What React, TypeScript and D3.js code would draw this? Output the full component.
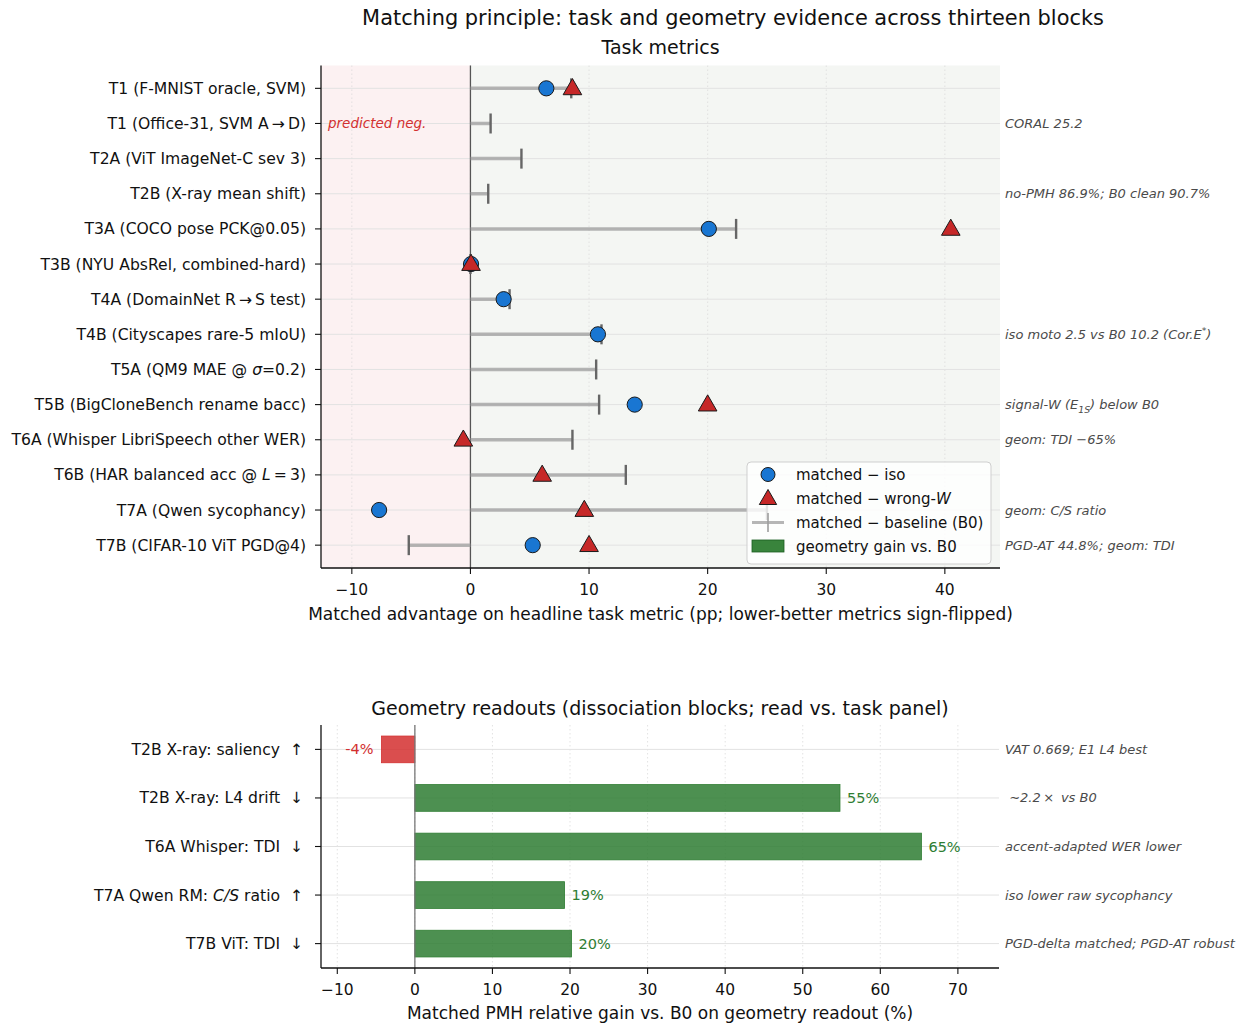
import React from 'react';
import * as d3 from 'd3';

const FONT = '"DejaVu Sans", "Liberation Sans", sans-serif';

// ---- Task panel data (matched advantage, pp) ----
const taskLabels = [
  'T1 (F-MNIST oracle, SVM)',
  'T1 (Office-31, SVM A\u2009\u2192\u2009D)',
  'T2A (ViT ImageNet-C sev 3)',
  'T2B (X-ray mean shift)',
  'T3A (COCO pose PCK@0.05)',
  'T3B (NYU AbsRel, combined-hard)',
  'T4A (DomainNet R\u2009\u2192\u2009S test)',
  'T4B (Cityscapes rare-5 mIoU)',
  'T5A (QM9 MAE @ *\u03c3*=0.2)',
  'T5B (BigCloneBench rename bacc)',
  'T6A (Whisper LibriSpeech other WER)',
  'T6B (HAR balanced acc @ *L*\u2009=\u20093)',
  'T7A (Qwen sycophancy)',
  'T7B (CIFAR-10 ViT PGD@4)',
];
const isoGap: (number | null)[] = [6.4, null, null, null, 20.1, 0.05, 2.8, 10.75, null, 13.85, null, null, -7.7, 5.25];
const wrongWGap: (number | null)[] = [8.6, null, null, null, 40.5, 0.05, null, null, null, 20.0, -0.6, 6.05, 9.6, 10.0];
const baselineGap: (number | null)[] = [8.5, 1.7, 4.3, 1.5, 22.4, 0, 3.3, 11.05, 10.6, 10.85, 8.6, 13.1, 25.0, -5.2];
const taskNotes = [
  '',
  'CORAL 25.2',
  '',
  'no-PMH 86.9%; B0 clean 90.7%',
  '',
  '',
  '',
  'iso moto 2.5 vs B0 10.2 (Cor.E^{*})',
  '',
  'signal-W (E_{1S}) below B0',
  'geom: TDI \u221265%',
  '',
  'geom: C/S ratio',
  'PGD-AT 44.8%; geom: TDI',
];
const taskTicks = [-10, 0, 10, 20, 30, 40];

// ---- Geometry panel data (relative gain, %) ----
const geomLabels = [
  'T2B X-ray: saliency  \u2191',
  'T2B X-ray: L4 drift  \u2193',
  'T6A Whisper: TDI  \u2193',
  'T7A Qwen RM: *C/S* ratio  \u2191',
  'T7B ViT: TDI  \u2193',
];
const geomGain = [-4.3, 54.8, 65.3, 19.3, 20.2];
const geomNotes = [
  'VAT 0.669; E1 L4 best',
  ' \u223c2.2\u2009\u00d7\u2009 vs B0',
  'accent-adapted WER lower',
  'iso lower raw sycophancy',
  'PGD-delta matched; PGD-AT robust',
];
const geomTicks = [-10, 0, 10, 20, 30, 40, 50, 60, 70];

const BLUE = '#1976d2';
const RED = '#c62828';
const GREEN = '#2e7d32';
const BAR_RED = '#d32f2f';

const fmtTick = (v: number) => (v < 0 ? '\u2212' + Math.abs(v) : String(v));

// Small markup: *italic*, _{sub}, ^{sup}
function Rich({ text, size }: { text: string; size: number }) {
  const tokens = text.split(/(\*[^*]+\*|_\{[^}]+\}|\^\{[^}]+\})/).filter((t) => t !== '');
  const out: React.ReactNode[] = [];
  let shift = 0;
  tokens.forEach((t, i) => {
    let body = t;
    let next = 0;
    let italic = false;
    let small = false;
    if (t.startsWith('*')) {
      body = t.slice(1, -1);
      italic = true;
    } else if (t.startsWith('_{')) {
      body = t.slice(2, -1);
      next = size * 0.28;
      small = true;
    } else if (t.startsWith('^{')) {
      body = t.slice(2, -1);
      next = -size * 0.38;
      small = true;
    }
    const d = next - shift;
    out.push(
      <tspan
        key={i}
        fontStyle={italic ? 'italic' : undefined}
        fontSize={small ? size * 0.72 : undefined}
        dy={d !== 0 ? d : undefined}
      >
        {body}
      </tspan>
    );
    shift = next;
  });
  return <>{out}</>;
}

function TaskPanel() {
  const L = 321, R = 1000, T = 65.5, B = 568;
  const x = d3.scaleLinear().domain([-12.6, 44.65]).range([L, R]);
  const y = d3.scaleLinear().domain([-0.65, 13.65]).range([T, B]);
  const x0 = x(0);
  const triPath = d3.symbol(d3.symbolTriangle, 150)() || '';
  const legTri = d3.symbol(d3.symbolTriangle, 130)() || '';
  return (
    <g>
      {/* shaded halves */}
      <rect x={L} y={T} width={x0 - L} height={B - T} fill="#fcf1f2" />
      <rect x={x0} y={T} width={R - x0} height={B - T} fill="#f4f6f3" />
      {/* grid */}
      {taskTicks.map((t) => (
        <line key={'vg' + t} x1={x(t)} x2={x(t)} y1={T} y2={B} stroke="#dcdcdc" strokeWidth={0.8} strokeDasharray="1.5,2.5" />
      ))}
      {taskLabels.map((_, i) => (
        <line key={'hg' + i} x1={L} x2={R} y1={y(i)} y2={y(i)} stroke="#e2e2e2" strokeWidth={1} />
      ))}
      <line x1={x0} x2={x0} y1={T} y2={B} stroke="#555" strokeWidth={1.3} />
      {/* baseline gaps */}
      {baselineGap.map((v, i) =>
        v === null ? null : (
          <g key={'b' + i}>
            <line x1={x0} x2={x(v)} y1={y(i)} y2={y(i)} stroke="#9e9e9e" strokeOpacity={0.75} strokeWidth={3.5} />
            <line x1={x(v)} x2={x(v)} y1={y(i) - 10} y2={y(i) + 10} stroke="#666" strokeWidth={2.4} />
          </g>
        )
      )}
      {isoGap.map((v, i) =>
        v === null ? null : (
          <circle key={'c' + i} cx={x(v)} cy={y(i)} r={7.6} fill={BLUE} stroke="#1a1a1a" strokeWidth={1} />
        )
      )}
      {wrongWGap.map((v, i) =>
        v === null ? null : (
          <path key={'t' + i} d={triPath} transform={`translate(${x(v)},${y(i) + 1})`} fill={RED} stroke="#1a1a1a" strokeWidth={1} />
        )
      )}
      <text x={328} y={y(1) + 4.5} fontFamily={FONT} fontSize={13.5} fontStyle="italic" fill="#d32f2f">
        predicted neg.
      </text>
      {/* right notes */}
      {taskNotes.map((n, i) =>
        n ? (
          <text key={'n' + i} x={1005} y={y(i) + 4.5} fontFamily={FONT} fontSize={13} fontStyle="italic" fill="#4a4a4a">
            <Rich text={n} size={13} />
          </text>
        ) : null
      )}
      {/* legend */}
      <g>
        <rect x={747} y={462} width={244} height={102} rx={4} fill="#fff" fillOpacity={0.82} stroke="#cfcfcf" strokeWidth={1} />
        <circle cx={768} cy={474.5} r={7} fill={BLUE} stroke="#1a1a1a" strokeWidth={1} />
        <path d={legTri} transform={`translate(768,499.5)`} fill={RED} stroke="#1a1a1a" strokeWidth={1} />
        <line x1={752} x2={784} y1={522.5} y2={522.5} stroke="#9e9e9e" strokeOpacity={0.75} strokeWidth={3} />
        <line x1={768} x2={768} y1={513} y2={532} stroke="#9e9e9e" strokeWidth={1.6} />
        <rect x={752} y={540} width={32} height={12} fill={GREEN} fillOpacity={0.95} stroke="#1b5e20" strokeWidth={0.8} />
        {['matched \u2212 iso', 'matched \u2212 wrong-*W*', 'matched \u2212 baseline (B0)', 'geometry gain vs. B0'].map((s, k) => (
          <text key={s} x={796} y={474.5 + k * 24 + 5.3} fontFamily={FONT} fontSize={15} fill="#111">
            <Rich text={s} size={15} />
          </text>
        ))}
      </g>
      {/* axes */}
      <line x1={L} x2={L} y1={T} y2={B} stroke="#111" strokeWidth={1.3} />
      <line x1={L} x2={R} y1={B} y2={B} stroke="#111" strokeWidth={1.3} />
      {taskTicks.map((t) => (
        <g key={'xt' + t}>
          <line x1={x(t)} x2={x(t)} y1={B} y2={B + 6} stroke="#111" strokeWidth={1.1} />
          <text x={x(t)} y={B + 27} textAnchor="middle" fontFamily={FONT} fontSize={15.5} fill="#111">
            {fmtTick(t)}
          </text>
        </g>
      ))}
      {taskLabels.map((s, i) => (
        <g key={'yt' + i}>
          <line x1={L - 6} x2={L} y1={y(i)} y2={y(i)} stroke="#111" strokeWidth={1.1} />
          <text x={306} y={y(i) + 5.5} textAnchor="end" fontFamily={FONT} fontSize={15.6} fill="#111">
            <Rich text={s} size={15.6} />
          </text>
        </g>
      ))}
      <text x={(L + R) / 2} y={53.5} textAnchor="middle" fontFamily={FONT} fontSize={19} fill="#111">
        Task metrics
      </text>
      <text x={(L + R) / 2} y={620} textAnchor="middle" fontFamily={FONT} fontSize={17} fill="#111">
        Matched advantage on headline task metric (pp; lower-better metrics sign-flipped)
      </text>
    </g>
  );
}

function GeometryPanel() {
  const L = 321, R = 999, T = 725, B = 968;
  const x = d3.scaleLinear().domain([-12.1, 75.3]).range([L, R]);
  const y = d3.scaleLinear().domain([-0.5025, 4.5025]).range([T, B]);
  const band = y(0.55) - y(0);
  const x0 = x(0);
  return (
    <g>
      {geomTicks.map((t) => (
        <line key={'vg' + t} x1={x(t)} x2={x(t)} y1={T} y2={B} stroke="#dcdcdc" strokeWidth={0.8} strokeDasharray="1.5,2.5" />
      ))}
      {geomLabels.map((_, i) => (
        <line key={'hg' + i} x1={L} x2={R} y1={y(i)} y2={y(i)} stroke="#e2e2e2" strokeWidth={1} />
      ))}
      {geomGain.map((v, i) => {
        const neg = v < 0;
        const c = neg ? BAR_RED : GREEN;
        return (
          <g key={'bar' + i}>
            <rect
              x={Math.min(x0, x(v))}
              y={y(i) - band / 2}
              width={Math.abs(x(v) - x0)}
              height={band}
              fill={c}
              fillOpacity={0.85}
              stroke={c}
              strokeWidth={0.8}
            />
            <text
              x={neg ? x(v) - 8 : x(v) + 7}
              y={y(i) + 5}
              textAnchor={neg ? 'end' : 'start'}
              fontFamily={FONT}
              fontSize={14.5}
              fill={neg ? BAR_RED : GREEN}
            >
              {`${Math.round(v)}%`}
            </text>
          </g>
        );
      })}
      <line x1={x0} x2={x0} y1={T} y2={B} stroke="#777" strokeWidth={1.3} />
      {geomNotes.map((n, i) => (
        <text key={'n' + i} x={1005} y={y(i) + 4.5} fontFamily={FONT} fontSize={13} fontStyle="italic" fill="#4a4a4a" style={{ whiteSpace: 'pre' }}>
          {n}
        </text>
      ))}
      <line x1={L} x2={L} y1={T} y2={B} stroke="#111" strokeWidth={1.3} />
      <line x1={L} x2={R} y1={B} y2={B} stroke="#111" strokeWidth={1.3} />
      {geomTicks.map((t) => (
        <g key={'xt' + t}>
          <line x1={x(t)} x2={x(t)} y1={B} y2={B + 6} stroke="#111" strokeWidth={1.1} />
          <text x={x(t)} y={B + 27} textAnchor="middle" fontFamily={FONT} fontSize={15.5} fill="#111">
            {fmtTick(t)}
          </text>
        </g>
      ))}
      {geomLabels.map((s, i) => (
        <g key={'yt' + i}>
          <line x1={L - 6} x2={L} y1={y(i)} y2={y(i)} stroke="#111" strokeWidth={1.1} />
          <text x={303} y={y(i) + 5.5} textAnchor="end" fontFamily={FONT} fontSize={15.6} fill="#111" style={{ whiteSpace: 'pre' }}>
            <Rich text={s} size={15.6} />
          </text>
        </g>
      ))}
      <text x={(L + R) / 2} y={715} textAnchor="middle" fontFamily={FONT} fontSize={19} fill="#111">
        Geometry readouts (dissociation blocks; read vs. task panel)
      </text>
      <text x={(L + R) / 2} y={1019} textAnchor="middle" fontFamily={FONT} fontSize={17} fill="#111">
        Matched PMH relative gain vs. B0 on geometry readout (%)
      </text>
    </g>
  );
}

export default function App() {
  return (
    <svg
      width={1243}
      height={1023}
      viewBox="0 0 1243 1023"
      style={{ position: 'absolute', left: 0, top: 0, background: '#fff' }}
    >
      <rect width={1243} height={1023} fill="#fff" />
      <text x={733} y={24.5} textAnchor="middle" fontFamily={FONT} fontSize={20.9} fill="#111">
        Matching principle: task and geometry evidence across thirteen blocks
      </text>
      <TaskPanel />
      <GeometryPanel />
    </svg>
  );
}
